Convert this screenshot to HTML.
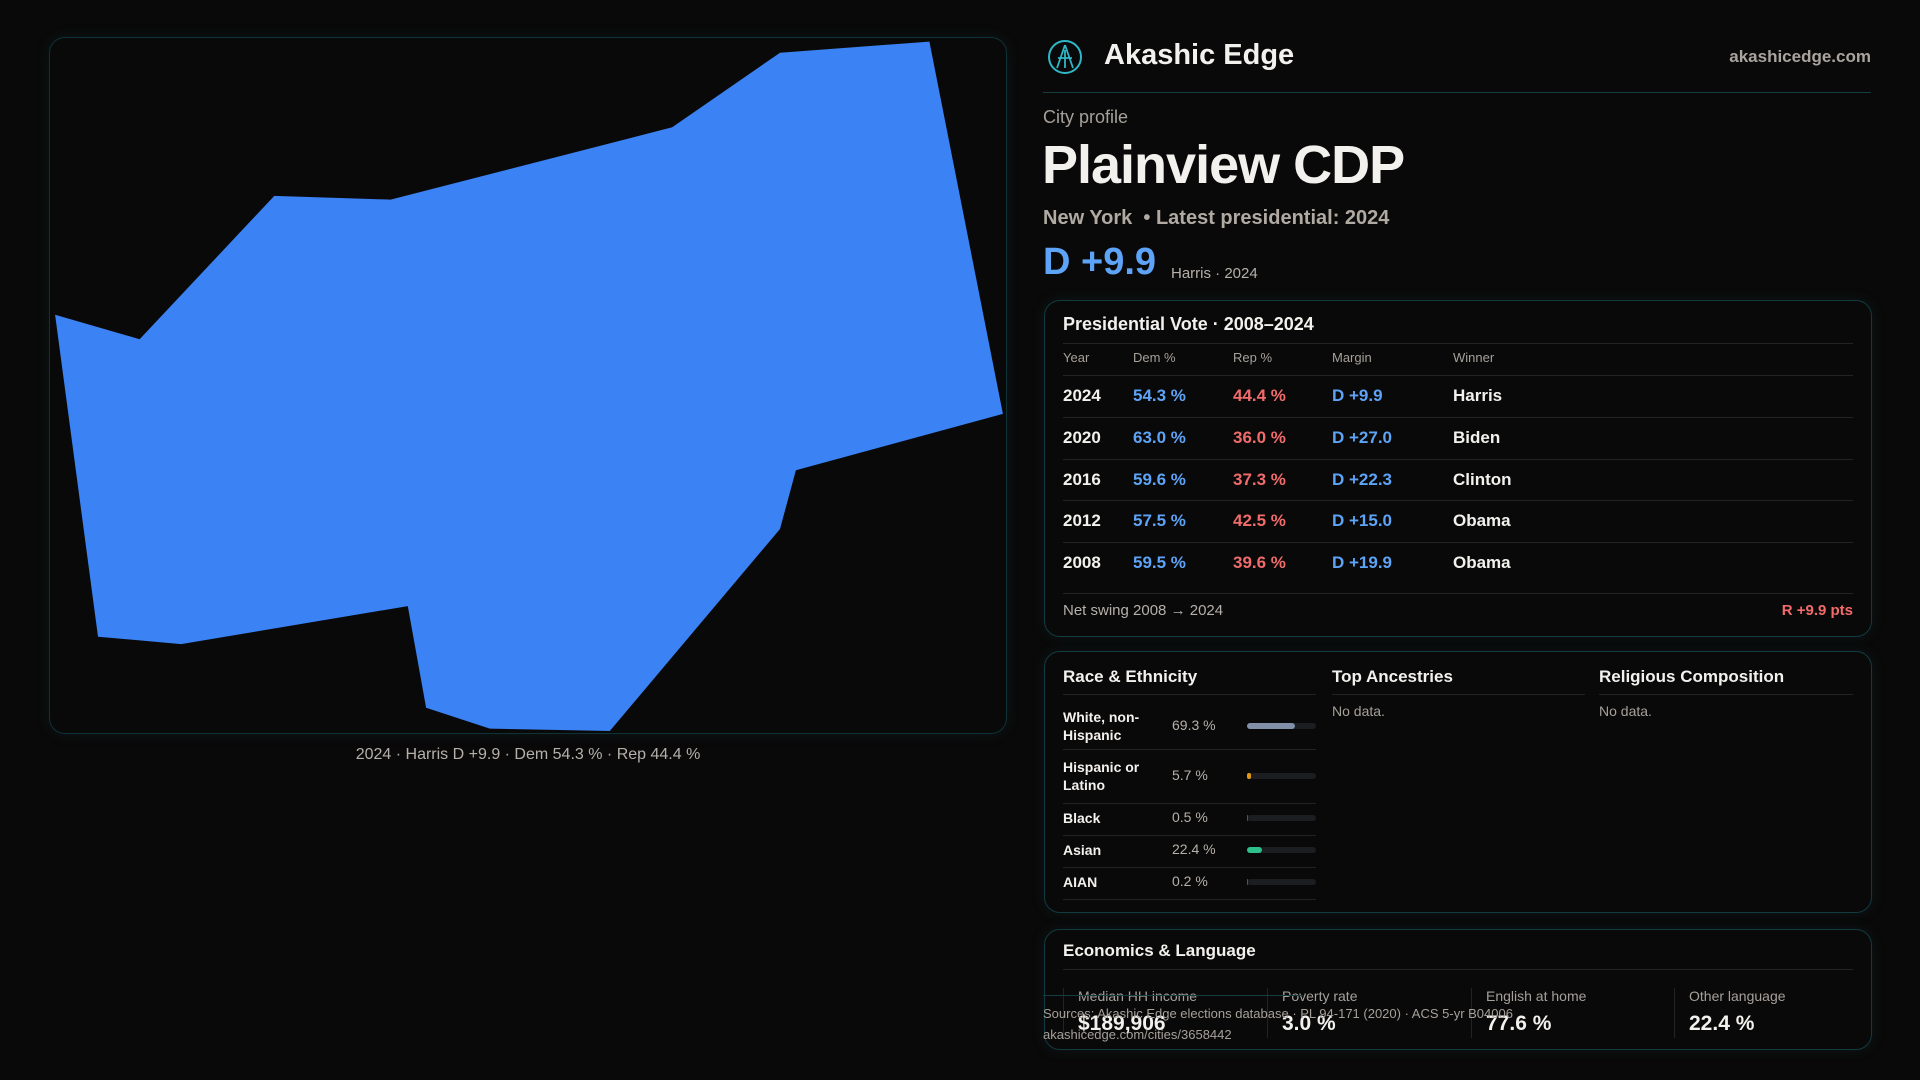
<!DOCTYPE html>
<html><head><meta charset="utf-8">
<style>
*{box-sizing:border-box;margin:0;padding:0}
body{width:1920px;height:1080px;background:#0a0909;font-family:"Liberation Sans",sans-serif;color:#f3f1ee;position:relative;overflow:hidden}
.abs{position:absolute;white-space:nowrap}
.card{position:absolute;border:1px solid #123a3f;border-radius:16px;background:#0a0909;box-shadow:0 0 14px rgba(20,90,100,0.18)}
.hl{position:absolute;height:1px;background:#202426}
.dem{color:#5da3f7}.rep{color:#f26b6b}
</style></head><body>
<div class="card" style="left:49px;top:37px;width:958px;height:697px;border-color:#0f3237"></div>
<svg class="abs" style="left:0;top:0" width="1920" height="1080"><polygon id="shape" fill="#3b82f4"/></svg>
<div class="abs" style="left:0;width:1056px;text-align:center;top:746px;font-size:16px;color:#b5b0aa">2024 · Harris D +9.9 · Dem 54.3 % · Rep 44.4 %</div>

<svg class="abs" style="left:1046px;top:38px" width="38" height="38" viewBox="0 0 38 38"><circle cx="19" cy="19" r="16" fill="none" stroke="#2fb7c7" stroke-width="2"/><path d="M19 7 L11 30 M19 7 L27 30 M12 20 L26 20 M19 12 L19 30" stroke="#2fb7c7" stroke-width="1.8" fill="none"/></svg>
<div class="abs" style="left:1104px;top:39px;font-size:29px;font-weight:bold">Akashic Edge</div>
<div class="abs" style="right:49px;top:47px;font-size:17px;font-weight:bold;color:#a9a49e">akashicedge.com</div>
<div class="hl" style="left:1043px;width:828px;top:92px;background:#173c41"></div>
<div class="abs" style="left:1043px;top:107px;font-size:18px;color:#a5a09a">City profile</div>
<div class="abs" style="left:1042px;top:134px;font-size:54px;font-weight:bold;letter-spacing:-1px">Plainview CDP</div>
<div class="abs" style="left:1043px;top:207px;font-size:20px;font-weight:bold;color:#b0aaa3">New York &nbsp;• Latest presidential: 2024</div>
<div class="abs dem" style="left:1043px;top:241px;font-size:38px;font-weight:bold">D +9.9</div>
<div class="abs" style="left:1171px;top:265px;font-size:15px;color:#b5b0aa">Harris · 2024</div>

<div class="card" style="left:1044px;top:300px;width:828px;height:337px"></div>
<div class="abs" style="left:1063px;top:314px;font-size:18px;font-weight:bold">Presidential Vote · 2008–2024</div>
<div class="hl" style="left:1063px;width:790px;top:343px"></div>
<div id="vote"></div>
<div class="hl" style="left:1063px;width:790px;top:593px"></div>
<div class="abs" style="left:1063px;top:602px;font-size:15px;color:#b5b0aa">Net swing 2008 → 2024</div>
<div class="abs rep" style="right:67px;top:602px;font-size:15px;font-weight:bold">R +9.9 pts</div>

<div class="card" style="left:1044px;top:651px;width:828px;height:262px"></div>
<div class="abs" style="left:1063px;top:667px;font-size:17px;font-weight:bold">Race &amp; Ethnicity</div>
<div class="hl" style="left:1063px;width:253px;top:694px"></div>
<div class="abs" style="left:1332px;top:667px;font-size:17px;font-weight:bold">Top Ancestries</div>
<div class="hl" style="left:1332px;width:253px;top:694px"></div>
<div class="abs" style="left:1332px;top:703px;font-size:14px;color:#a5a09a">No data.</div>
<div class="abs" style="left:1599px;top:667px;font-size:17px;font-weight:bold">Religious Composition</div>
<div class="hl" style="left:1599px;width:254px;top:694px"></div>
<div class="abs" style="left:1599px;top:703px;font-size:14px;color:#a5a09a">No data.</div>
<div id="race"></div>

<div class="card" style="left:1044px;top:929px;width:828px;height:121px"></div>
<div class="abs" style="left:1063px;top:941px;font-size:17px;font-weight:bold">Economics &amp; Language</div>
<div class="hl" style="left:1063px;width:790px;top:969px"></div>
<div id="econ"></div>
<div class="hl" style="left:1043px;width:260px;top:995px;background:#173c41"></div>
<div class="abs" style="left:1043px;top:1006px;font-size:13px;color:#a5a09a">Sources: Akashic Edge elections database · PL 94-171 (2020) · ACS 5-yr B04006</div>
<div class="abs" style="left:1043px;top:1027px;font-size:13px;color:#a5a09a">akashicedge.com/cities/3658442</div>

<script>
const mapX=[45,114,224,319,549,637,759,819,650,637,498,400,348,333,148,80];
const mapY=[257,277,160,163,104,43,34,338,384,432,597,595,578,495,526,520];
const years=['2024','2020','2016','2012','2008'];
const demPct=[54.3,63.0,59.6,57.5,59.5];
const repPct=[44.4,36.0,37.3,42.5,39.6];
const winners=['Harris','Biden','Clinton','Obama','Obama'];
const raceLabels=['White, non-<br>Hispanic','Hispanic or<br>Latino','Black','Asian','AIAN'];
const racePct=[69.3,5.7,0.5,22.4,0.2];
const raceColors=['#8190a8','#e39a12','#555','#2fbf8a','#555'];
const econLabels=['Median HH income','Poverty rate','English at home','Other language'];
const econValues=['$189,906','3.0 %','77.6 %','22.4 %'];

const K=1920/1568;
const px=v=>v*K, py=v=>v*K;
document.getElementById('shape').setAttribute('points',mapX.map((x,i)=>px(x).toFixed(1)+','+py(mapY[i]).toFixed(1)).join(' '));

function add(parent,html,style,name,inter){const d=document.createElement('div');d.className='abs';d.innerHTML=html;d.style.cssText=style;


parent.appendChild(d);return d;}
const vote=document.getElementById('vote');
const cols=[1063,1133,1233,1332,1453];
['Year','Dem %','Rep %','Margin','Winner'].forEach((h,i)=>add(vote,h,`left:${cols[i]}px;top:350px;font-size:13px;color:#a5a09a`,'column-header',false));
const rowY=i=>394+i*41.8;
years.forEach((y,i)=>{
 const t=rowY(i)-8;
 const hl=document.createElement('div');hl.className='hl';hl.style.cssText=`left:1063px;width:790px;top:${rowY(i)-19}px`;
 
 
 vote.appendChild(hl);
 add(vote,y,`left:${cols[0]}px;top:${t}px;font-size:17px;font-weight:bold`,'vote-year',false);
 add(vote,demPct[i].toFixed(1)+' %',`left:${cols[1]}px;top:${t}px;font-size:17px;font-weight:bold;color:#5da3f7`,'dem-share',false);
 add(vote,repPct[i].toFixed(1)+' %',`left:${cols[2]}px;top:${t}px;font-size:17px;font-weight:bold;color:#f26b6b`,'rep-share',false);
 const m=demPct[i]-repPct[i];
 add(vote,(m>=0?'D +':'R +')+Math.abs(m).toFixed(1),`left:${cols[3]}px;top:${t}px;font-size:17px;font-weight:bold;color:${m>=0?'#5da3f7':'#f26b6b'}`,'vote-margin',false);
 add(vote,winners[i],`left:${cols[4]}px;top:${t}px;font-size:17px;font-weight:bold`,'vote-winner',false);
});
const race=document.getElementById('race');
const rY=[726,776,818,850,882], sepY=[749,803,835,867,899];
raceLabels.forEach((l,i)=>{
 add(race,l,`left:1063px;top:${rY[i]-(l.includes('<br>')?18:9)}px;font-size:14px;font-weight:bold;line-height:18px`,'race-label',false);
 add(race,racePct[i].toFixed(1)+' %',`left:1172px;top:${rY[i]-9}px;font-size:14px;color:#b5b0aa`,'race-pct',false);
 const tr=add(race,'',`left:1247px;top:${rY[i]-3}px;width:69px;height:6px;border-radius:3px;background:#1c1d20`,'race-bar-track',false);
 const b=document.createElement('div');b.style.cssText=`width:${69*racePct[i]/100}px;height:6px;border-radius:3px;background:${raceColors[i]}`;
 
 
 tr.appendChild(b);
 const hl=document.createElement('div');hl.className='hl';hl.style.cssText=`left:1063px;width:253px;top:${sepY[i]}px`;
 
 
 race.appendChild(hl);
});
const econ=document.getElementById('econ');
const ex=[1063,1267,1471,1674];
econLabels.forEach((l,i)=>{
 add(econ,'',`left:${ex[i]}px;top:988px;width:1px;height:50px;background:#202426`,'stat-divider',false);
 add(econ,l,`left:${ex[i]+15}px;top:988px;font-size:14px;color:#a5a09a`,'stat-label',false);
 add(econ,econValues[i],`left:${ex[i]+15}px;top:1012px;font-size:21px;font-weight:bold`,'stat-value',false);
});
</script>
</body></html>
